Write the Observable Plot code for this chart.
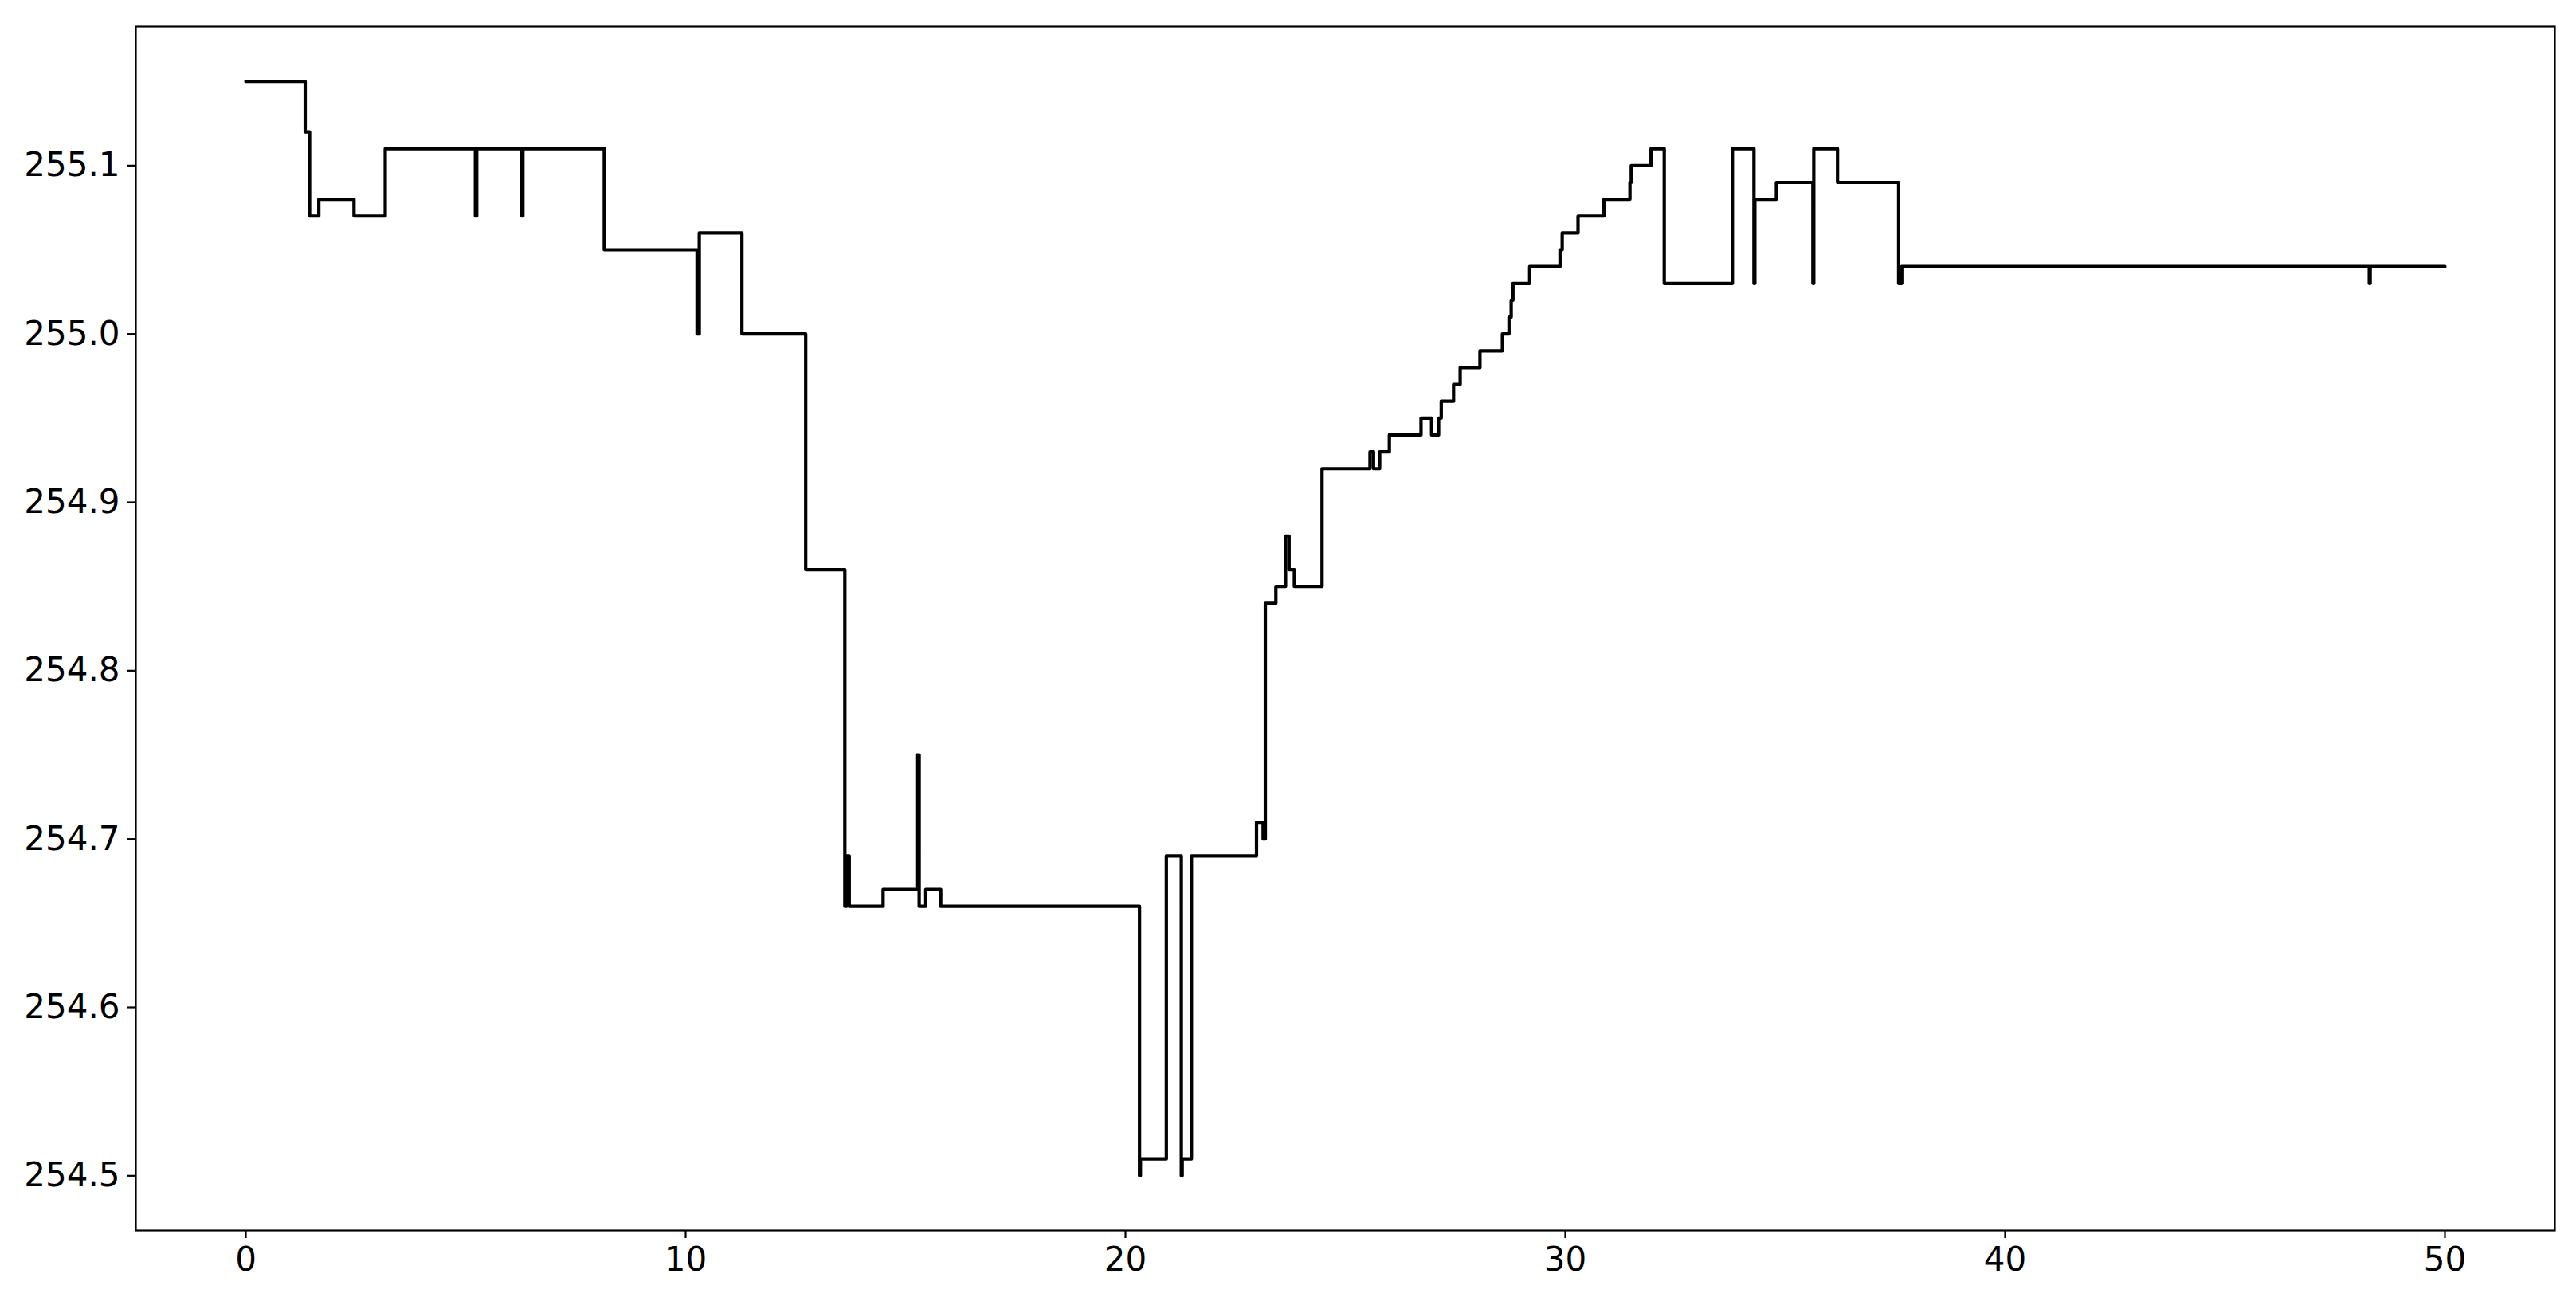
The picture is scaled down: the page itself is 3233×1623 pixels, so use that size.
<!DOCTYPE html>
<html>
<head>
<meta charset="utf-8">
<script src="https://cdn.jsdelivr.net/npm/d3@7"></script>
<script src="https://cdn.jsdelivr.net/npm/@observablehq/plot@0.6"></script>
<style>
  html, body { margin: 0; padding: 0; background: #fff; }
</style>
</head>
<body>
<div id="chart"></div>
<script>
// Change points of the step series (value holds until the next x)
const xs = [
  0, 1.35, 1.45, 1.66, 2.46, 3.17, 5.22, 5.25, 6.27, 6.30,
  8.15, 10.26, 10.31, 11.28, 12.73, 13.62, 13.66, 13.72, 14.49, 15.26,
  15.31, 15.46, 15.80, 20.32, 20.34, 20.93, 21.27, 21.29, 21.50, 22.98,
  23.13, 23.18, 23.42, 23.64, 23.72, 23.84, 24.47, 25.56, 25.64, 25.78,
  26.00, 26.72, 26.96, 27.12, 27.18, 27.46, 27.61, 28.06, 28.57, 28.72,
  28.77, 28.81, 29.19, 29.88, 29.93, 30.29, 30.88, 31.47, 31.50, 31.95,
  32.25, 33.80, 34.29, 34.31, 34.80, 35.63, 35.65, 36.19, 37.58, 37.65,
  48.28, 48.30, 50.00
];
const ys = [
  255.15, 255.12, 255.07, 255.08, 255.07, 255.11, 255.07, 255.11, 255.07, 255.11,
  255.05, 255.00, 255.06, 255.00, 254.86, 254.66, 254.69, 254.66, 254.67, 254.75,
  254.66, 254.67, 254.66, 254.50, 254.51, 254.69, 254.50, 254.51, 254.69, 254.71,
  254.70, 254.84, 254.85, 254.88, 254.86, 254.85, 254.92, 254.93, 254.92, 254.93,
  254.94, 254.95, 254.94, 254.95, 254.96, 254.97, 254.98, 254.99, 255.00, 255.01,
  255.02, 255.03, 255.04, 255.05, 255.06, 255.07, 255.08, 255.09, 255.10, 255.11,
  255.03, 255.11, 255.03, 255.08, 255.09, 255.03, 255.11, 255.09, 255.03, 255.04,
  255.03, 255.04, 255.04
];
const xTicks = [0, 10, 20, 30, 40, 50];
const yTicks = [254.5, 254.6, 254.7, 254.8, 254.9, 255.0, 255.1];

const data = xs.map((x, i) => ({x, y: ys[i]}));

const fs = 42;
const chart = Plot.plot({
  width: 3233,
  height: 1623,
  marginLeft: 170,
  marginRight: 27,
  marginTop: 33,
  marginBottom: 79,
  style: {fontFamily: "'DejaVu Sans', sans-serif", fontSize: fs + "px", color: "black", background: "white"},
  x: {domain: [-2.5, 52.5]},
  y: {domain: [254.4675, 255.1825]},
  marks: [
    Plot.axisX({ticks: xTicks, tickSize: 10, tickPadding: 11, strokeWidth: 2.2, label: null,
      tickFormat: d => String(d), fontSize: fs}),
    Plot.axisY({ticks: yTicks, tickSize: 10, tickPadding: 10, strokeWidth: 2.2, label: null,
      tickFormat: d3.format(".1f"), fontSize: fs}),
    Plot.line(data, {x: "x", y: "y", curve: "step-after", stroke: "black", strokeWidth: 4.2}),
    Plot.frame({stroke: "black", strokeWidth: 2.2})
  ]
});
document.getElementById("chart").appendChild(chart);
</script>
</body>
</html>
